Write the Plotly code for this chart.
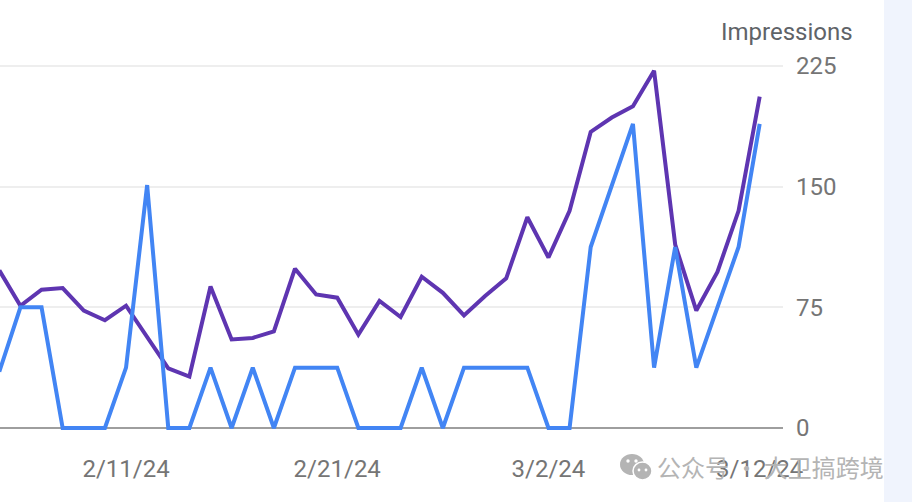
import plotly.graph_objects as go
import pandas as pd

dates = pd.date_range("2024-02-05", "2024-03-12").strftime("%Y-%m-%d").tolist()
impressions_purple = [98, 76, 86, 87, 73, 67, 76, 57, 37, 32, 88, 55, 56, 60, 99, 83, 81, 58, 79, 69,
                      94, 84, 70, 82, 93, 131, 106, 135, 184, 193, 200, 222, 114, 73, 97, 135, 206]
impressions_blue = [35, 75, 75, 0, 0, 0, 37.5, 151, 0, 0, 37.5, 0, 37.5, 0, 37.5, 37.5, 37.5, 0, 0, 0,
                    37.5, 0, 37.5, 37.5, 37.5, 37.5, 0, 0, 112.5, 150, 189, 37.5, 112.5, 37.5, 75, 112.5, 189]
x_ticks = ["2024-02-11", "2024-02-21", "2024-03-02", "2024-03-12"]
x_labels = ["2/11/24", "2/21/24", "3/2/24", "3/12/24"]
y_ticks = [0, 75, 150, 225]

W, H = 912, 502
L, R, T, B = 0, 783, 58, 440
px_per_unit = (428 - 66) / 225
y_min = -(B - 428) / px_per_unit
y_max = 225 + (66 - T) / px_per_unit

def px(x):
    return (x - L) / (R - L)

def py(y):
    return (B - y) / (B - T)

GREY = "#b4b4b4"

fig = go.Figure()
fig.add_trace(go.Scatter(x=dates, y=impressions_purple, mode="lines",
                         line=dict(color="#5e35b1", width=4), hoverinfo="skip"))
fig.add_trace(go.Scatter(x=dates, y=impressions_blue, mode="lines",
                         line=dict(color="#4285f4", width=4), hoverinfo="skip"))

shapes = [
    dict(type="rect", xref="paper", yref="paper", x0=px(884), x1=px(912), y0=py(502), y1=py(0),
         fillcolor="#f0f4fd", line_width=0, layer="below"),
    dict(type="circle", xref="paper", yref="paper", x0=px(620), x1=px(644), y0=py(475), y1=py(454),
         fillcolor=GREY, line_width=0),
    dict(type="circle", xref="paper", yref="paper", x0=px(633), x1=px(652), y0=py(480), y1=py(462),
         fillcolor=GREY, line=dict(color="white", width=1.5)),
]
for cx, cy, r, col in [(628, 461, 1.7, "white"), (636, 461, 1.7, "white"),
                       (639, 470, 1.4, "white"), (646, 470, 1.4, "white")]:
    shapes.append(dict(type="circle", xref="paper", yref="paper", x0=px(cx - r), x1=px(cx + r),
                       y0=py(cy + r), y1=py(cy - r), fillcolor=col, line_width=0))

annotations = [
    dict(text="Impressions", xref="paper", yref="paper", x=px(854.5), y=py(32), xanchor="right", yanchor="middle",
         showarrow=False, font=dict(family="Roboto", size=24, color="#5f6368")),
    dict(text="公众号 · 大卫搞跨境", xref="paper", yref="paper", x=px(886), y=py(466), xanchor="right", yanchor="middle",
         showarrow=False, font=dict(family="Noto Sans CJK SC", size=24, color=GREY)),
]

fig.update_layout(
    width=W, height=H,
    margin=dict(l=L, r=W - R, t=T, b=H - B, autoexpand=False),
    paper_bgcolor="white", plot_bgcolor="white",
    showlegend=False,
    shapes=shapes, annotations=annotations,
    xaxis=dict(type="date", range=["2024-02-05 00:48", "2024-03-13 02:30"],
               tickmode="array", tickvals=x_ticks, ticktext=x_labels,
               showgrid=False, showline=False, zeroline=False, ticks="",
               ticklabelstandoff=12,
               tickfont=dict(family="Roboto", size=24, color="#757575")),
    yaxis=dict(side="right", range=[y_min, y_max], tickmode="array", tickvals=y_ticks,
               showgrid=True, gridcolor="#eeeeee", gridwidth=1.5,
               zeroline=True, zerolinecolor="#9e9e9e", zerolinewidth=2,
               showline=False, ticks="", ticklabelstandoff=12,
               tickfont=dict(family="Roboto", size=24, color="#757575")),
)
fig.write_html("out.html", config=dict(displayModeBar=False),
               post_script="document.body.style.margin='0';document.documentElement.style.overflow='hidden';")
